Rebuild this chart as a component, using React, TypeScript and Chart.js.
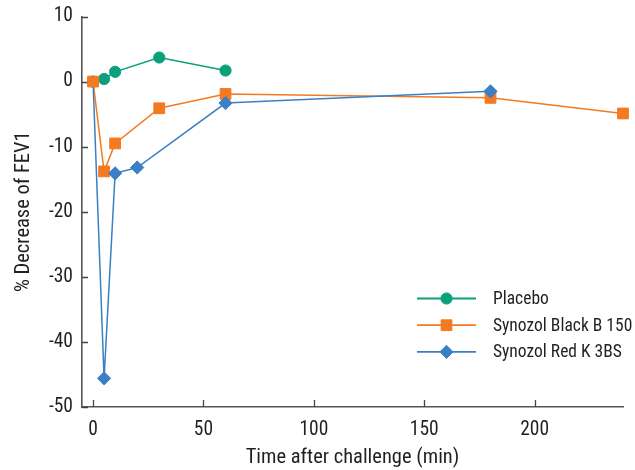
import React, { useEffect, useRef } from 'react';
import { Chart, registerables } from 'chart.js';
import { drawPoint } from 'chart.js/helpers';

Chart.register(...registerables);

const seriesNames = ['Placebo', 'Synozol Black B 150', 'Synozol Red K 3BS'];
const placeboTime = [0, 5, 10, 30, 60];
const placeboValue = [0, 0.4, 1.5, 3.7, 1.7];
const blackTime = [0, 5, 10, 30, 60, 180, 240];
const blackValue = [0, -13.8, -9.5, -4.1, -1.9, -2.5, -4.9];
const redTime = [0, 5, 10, 20, 60, 180];
const redValue = [0, -45.6, -14.1, -13.2, -3.3, -1.5];
const xTickValues = [0, 50, 100, 150, 200];
const yTickValues = [10, 0, -10, -20, -30, -40, -50];

const FONT = "'Liberation Sans Narrow', 'Roboto Condensed', 'DejaVu Sans Condensed', sans-serif";
const TEXT = '#231f20';
const AXIS = '#555555';
const COLORS = ['#0aa07b', '#f47a22', '#3b7fc5'];
const STYLES = ['circle', 'rect', 'rectRot'];
const RADII = [5.6, 7.6, 6.6];

const seriesList = [
  { t: placeboTime, v: placeboValue },
  { t: blackTime, v: blackValue },
  { t: redTime, v: redValue },
];

const tickPlugin = {
  id: 'inwardTicks',
  beforeDatasetsDraw(chart: any) {
    const { ctx, chartArea, scales } = chart;
    ctx.save();
    ctx.strokeStyle = '#444';
    ctx.lineWidth = 1.3;
    ctx.beginPath();
    for (const t of scales.y.ticks) {
      const py = Math.round(scales.y.getPixelForValue(t.value)) + 0.5;
      ctx.moveTo(chartArea.left, py);
      ctx.lineTo(chartArea.left + 6, py);
    }
    for (const t of scales.x.ticks) {
      const px = Math.round(scales.x.getPixelForValue(t.value)) + 0.5;
      ctx.moveTo(px, chartArea.bottom);
      ctx.lineTo(px, chartArea.bottom - 7);
    }
    ctx.stroke();
    ctx.restore();
  },
};

const legendPlugin = {
  id: 'customLegend',
  afterDatasetsDraw(chart: any) {
    const { ctx, chartArea } = chart;
    const x1 = chartArea.right - 206;
    const x2 = chartArea.right - 147;
    const xm = (x1 + x2) / 2;
    const xt = chartArea.right - 130;
    const y0 = chartArea.bottom - 108.5;
    ctx.save();
    seriesNames.forEach((name, i) => {
      const y = y0 + i * 26.7;
      ctx.strokeStyle = COLORS[i];
      ctx.lineWidth = 1.8;
      ctx.beginPath();
      ctx.moveTo(x1, y);
      ctx.lineTo(x2, y);
      ctx.stroke();
      ctx.fillStyle = COLORS[i];
      ctx.strokeStyle = COLORS[i];
      ctx.lineWidth = 1;
      drawPoint(ctx, { pointStyle: STYLES[i], radius: RADII[i], borderWidth: 1, rotation: 0 } as any, xm, y);
      ctx.fillStyle = TEXT;
      ctx.font = `17.5px ${FONT}`;
      ctx.textBaseline = 'middle';
      ctx.textAlign = 'left';
      ctx.fillText(name, xt, y + 1);
    });
    ctx.restore();
  },
};

export default function App() {
  const ref = useRef<HTMLCanvasElement | null>(null);
  useEffect(() => {
    document.body.style.margin = '0';
    if (!ref.current) return;
    const lineSets = seriesList.map((s, i) => ({
      label: seriesNames[i] + ' line',
      data: s.t.map((t, j) => ({ x: t, y: s.v[j] })),
      borderColor: COLORS[i],
      backgroundColor: COLORS[i],
      borderWidth: 1.5,
      pointRadius: 0,
      showLine: true,
      tension: 0,
      fill: false,
      clip: false as any,
      order: 10 + (3 - i),
    }));
    const pointSets = seriesList.map((s, i) => ({
      label: seriesNames[i],
      data: s.t.map((t, j) => ({ x: t, y: s.v[j] })),
      borderColor: COLORS[i],
      backgroundColor: COLORS[i],
      showLine: false,
      pointStyle: STYLES[i],
      pointRadius: i === 2 ? (c: any) => (c.dataIndex === 0 ? 0 : RADII[i]) : RADII[i],
      pointBorderWidth: 1,
      clip: false as any,
      order: 3 - i,
    }));
    const chart = new Chart(ref.current, {
      type: 'line',
      data: { datasets: [...lineSets, ...pointSets] as any },
      options: {
        animation: false,
        responsive: false,
        devicePixelRatio: 1,
        layout: { padding: { left: 0, right: 12, top: 16.5, bottom: 0 } },
        plugins: { legend: { display: false }, tooltip: { enabled: false } },
        scales: {
          x: {
            type: 'linear',
            min: -5,
            max: 240,
            afterBuildTicks: (s: any) => { s.ticks = xTickValues.map((v) => ({ value: v })); },
            afterFit: (s: any) => { s.height = 63; s.paddingLeft = 0; s.paddingRight = 0; },
            grid: { display: true, drawOnChartArea: false, drawTicks: false },
            border: { display: true, color: AXIS, width: 1.6 },
            ticks: { padding: 11, color: TEXT, font: { size: 19.5, family: FONT } },
            title: {
              display: true,
              text: 'Time after challenge (min)',
              color: TEXT,
              font: { size: 20.5, family: FONT },
              padding: { top: 0, bottom: 0 },
            },
          },
          y: {
            type: 'linear',
            min: -50,
            max: 10,
            afterBuildTicks: (s: any) => { s.ticks = yTickValues.map((v) => ({ value: v })); },
            afterFit: (s: any) => { s.width = 82; s.paddingTop = 0; s.paddingBottom = 0; },
            grid: { display: true, drawOnChartArea: false, drawTicks: false },
            border: { display: true, color: AXIS, width: 1.6 },
            ticks: { padding: 9, color: TEXT, font: { size: 19.5, family: FONT } },
            title: {
              display: true,
              text: '% Decrease of FEV1',
              color: TEXT,
              font: { size: 20.5, family: FONT },
              padding: { top: 12, bottom: 0 },
            },
          },
        },
      },
      plugins: [tickPlugin, legendPlugin],
    });
    return () => chart.destroy();
  }, []);
  return (
    <div style={{ width: 635, height: 470 }}>
      <canvas ref={ref} width={635} height={470} style={{ display: 'block' }} />
    </div>
  );
}
